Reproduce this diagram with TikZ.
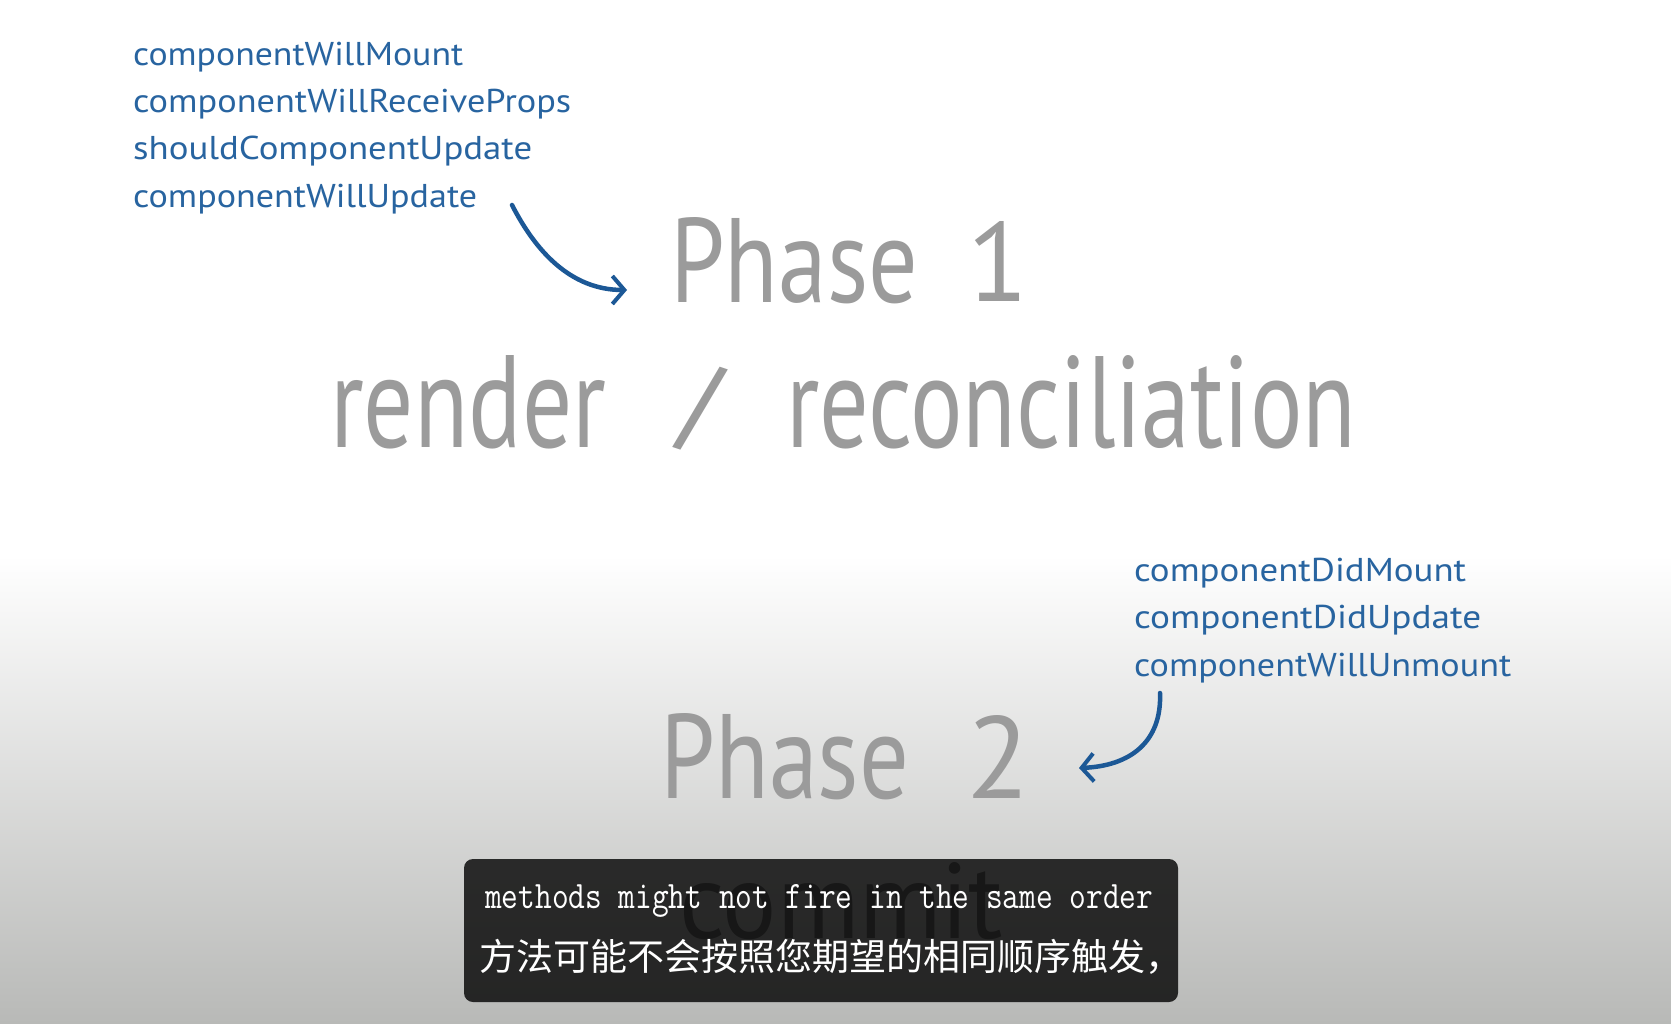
\documentclass[tikz,border=0pt]{standalone}
\usepackage{fontspec}
\usepackage{graphicx}
\setmainfont{PT Sans}
\newfontfamily\cjk{Noto Sans CJK SC}
\usetikzlibrary{arrows.meta}
\definecolor{bluetxt}{RGB}{40,100,160}
\definecolor{bluearr}{RGB}{28,88,150}
\definecolor{graytxt}{RGB}{155,155,155}
\definecolor{committxt}{RGB}{115,115,115}
\definecolor{bgbot}{RGB}{184,185,183}
\newcommand{\fitw}[2]{\resizebox{#1}{\height}{#2}}
\newcommand{\fitwh}[3]{\resizebox{#1}{#2}{#3}}
\begin{document}
\begin{tikzpicture}[x=1pt,y=-1pt,
  methodtxt/.style={anchor=base west, inner sep=0pt, text=bluetxt, font=\fontsize{33}{33}\selectfont},
  bigtxt/.style={anchor=base west, inner sep=0pt, text=graytxt, font=\fontsize{120}{120}\selectfont},
  curvearrow/.style={draw=bluearr, line width=4.5pt, line cap=round, -{Straight Barb[length=12pt,width=28pt,line width=4pt]}},
  subbox/.style={fill=black, fill opacity=0.8, rounded corners=9pt, inner sep=0pt, minimum width=714pt, minimum height=143pt}
]
\useasboundingbox (0,0) rectangle (1671,1024);
\fill[white] (0,0) rectangle (1671,556);
\shade[top color=white, bottom color=bgbot] (0,555) rectangle (1671,1024);

% phase 1 methods
\node[methodtxt] (m1) at (133,66) {\fitw{330pt}{componentWillMount}};
\node[methodtxt] (m2) at (133,113) {\fitw{438pt}{componentWillReceiveProps}};
\node[methodtxt] (m3) at (133,160) {\fitw{399pt}{shouldComponentUpdate}};
\node[methodtxt] (m4) at (133,208) {\fitw{344pt}{componentWillUpdate}};

% phase 2 methods
\node[methodtxt] (d1) at (1134,581) {\fitw{332pt}{componentDidMount}};
\node[methodtxt] (d2) at (1134,628) {\fitw{347pt}{componentDidUpdate}};
\node[methodtxt] (d3) at (1134,676) {\fitw{377pt}{componentWillUnmount}};

% big gray texts
\node[bigtxt] (p1) at (670,302) {\fitwh{248pt}{85pt}{Phase}};
\node[bigtxt, anchor=base] (p1n) at (998,302) {\resizebox{!}{80pt}{1}};
\node[bigtxt] (r1) at (330,447) {\fitwh{276pt}{92pt}{render}};
\node[bigtxt] (sl) at (677,450) {\fitwh{46pt}{83pt}{\raisebox{\depth}{/}}};
\node[bigtxt] (r2) at (786,447) {\fitwh{570pt}{92pt}{reconciliation}};
\node[bigtxt] (p2) at (660,798) {\fitwh{249pt}{85pt}{Phase}};
\node[bigtxt, anchor=base] (p2n) at (998,798) {\resizebox{!}{83pt}{2}};
\node[bigtxt, text=committxt] (cm) at (679,938) {\fitwh{324pt}{76pt}{commit}};

% arrows
\coordinate (a1s) at (512,205);
\coordinate (a1e) at (627,290);
\draw[curvearrow] (a1s) .. controls (535,250) and (570,290) .. (a1e);
\coordinate (a2s) at (1160,693);
\coordinate (a2e) at (1079,768);
\draw[curvearrow] (a2s) .. controls (1162,742) and (1130,766) .. (a2e);

% subtitle
\node[subbox] (sub) at (821,930.5) {};
\node[anchor=base west, inner sep=0pt, text=white, font=\ttfamily\fontsize{28}{28}\selectfont] (s1) at (485,908) {\fitwh{668pt}{24pt}{methods might not fire in the same order}};
\node[anchor=west, inner sep=0pt, text=white, font=\cjk\fontsize{37}{37}\selectfont] (s2) at (479,957) {方法可能不会按照您期望的相同顺序触发，};
\end{tikzpicture}
\end{document}
